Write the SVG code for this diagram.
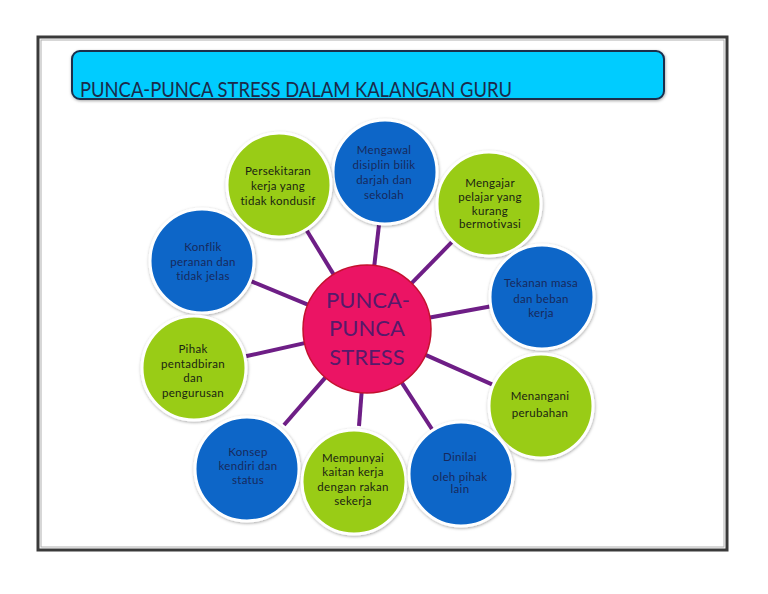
<svg xmlns="http://www.w3.org/2000/svg" width="768" height="594" viewBox="0 0 768 594">
<defs>
<filter id="sh" x="-20%" y="-20%" width="140%" height="140%">
<feDropShadow dx="0.5" dy="1" stdDeviation="1.5" flood-color="#000" flood-opacity="0.35"/>
</filter>
<style>
.blue{fill:#0A66C8;stroke:#fff;stroke-width:3;filter:url(#sh)}
.green{fill:#99CC14;stroke:#fff;stroke-width:3;filter:url(#sh)}
.tb{font-family:Lato,"Noto Sans",sans-serif;font-size:11.5px;fill:#17295C;text-anchor:middle;letter-spacing:0.3px}
.tg{font-family:Lato,"Noto Sans",sans-serif;font-size:11.5px;fill:#1A2412;text-anchor:middle;letter-spacing:0.3px}
.conn line{stroke:#6E1E86;stroke-width:4;stroke-linecap:butt}
</style>
</defs>
<rect width="768" height="594" fill="#fff"/>
<rect x="38" y="37" width="689" height="513" fill="#fff" stroke="#3a3a3a" stroke-width="3"/>
<rect x="41" y="40" width="683" height="507" fill="none" stroke="#b0b0b0" stroke-width="1"/>
<g id="title">
<rect x="72" y="51" width="592" height="48" rx="8" fill="#00CCFF" stroke="#1B2E4C" stroke-width="2" filter="url(#sh)"/>
<text x="80" y="97" font-family="Lato,'Noto Sans',sans-serif" font-size="21" fill="#1B2A4A" textLength="432" lengthAdjust="spacingAndGlyphs">PUNCA-PUNCA STRESS  DALAM KALANGAN GURU</text>
</g>
<g id="connectors" class="conn">
<line x1="374.3" y1="265.4" x2="379" y2="224.7"/>
<line x1="333.6" y1="274.4" x2="306.6" y2="230.2"/>
<line x1="411.7" y1="283.2" x2="452" y2="241.9"/>
<line x1="307.8" y1="304.6" x2="251" y2="281.2"/>
<line x1="430" y1="317.5" x2="489.9" y2="306.5"/>
<line x1="304.5" y1="343.1" x2="245.7" y2="356.3"/>
<line x1="425.5" y1="354.9" x2="492.5" y2="384.6"/>
<line x1="325.3" y1="377.6" x2="284" y2="425"/>
<line x1="361.6" y1="392.7" x2="359" y2="426"/>
<line x1="401.8" y1="382.7" x2="432.2" y2="429.5"/>
</g>
<g id="center">
<circle cx="367" cy="329" r="64" fill="#EB1464" stroke="#C4102E" stroke-width="1.5"/>
<g font-family="Lato,'Noto Sans',sans-serif" font-size="22" fill="#561A6A" text-anchor="middle">
<text x="368" y="308">PUNCA-</text>
<text x="367" y="336">PUNCA</text>
<text x="367" y="365">STRESS</text>
</g>
</g>
<g id="n-mengawal">
<circle class="blue" cx="385" cy="172" r="52"/>
<text class="tb" x="384" y="154">Mengawal</text>
<text class="tb" x="384" y="169">disiplin bilik</text>
<text class="tb" x="384" y="184">darjah dan</text>
<text class="tb" x="384" y="199">sekolah</text>
</g>
<g id="n-persekitaran">
<circle class="green" cx="279" cy="185" r="52"/>
<text class="tg" x="278" y="175">Persekitaran</text>
<text class="tg" x="278" y="190">kerja yang</text>
<text class="tg" x="278" y="205">tidak kondusif</text>
</g>
<g id="n-mengajar">
<circle class="green" cx="489" cy="204" r="52"/>
<text class="tg" x="490" y="187">Mengajar</text>
<text class="tg" x="490" y="201">pelajar yang</text>
<text class="tg" x="490" y="215">kurang</text>
<text class="tg" x="490" y="228">bermotivasi</text>
</g>
<g id="n-konflik">
<circle class="blue" cx="202" cy="261" r="52"/>
<text class="tb" x="203" y="251">Konflik</text>
<text class="tb" x="203" y="266">peranan dan</text>
<text class="tb" x="203" y="280">tidak jelas</text>
</g>
<g id="n-tekanan">
<circle class="blue" cx="542" cy="297" r="52"/>
<text class="tb" x="541" y="287">Tekanan masa</text>
<text class="tb" x="541" y="303">dan beban</text>
<text class="tb" x="541" y="317">kerja</text>
</g>
<g id="n-pihak">
<circle class="green" cx="194" cy="368" r="52"/>
<text class="tg" x="193" y="353">Pihak</text>
<text class="tg" x="193" y="368">pentadbiran</text>
<text class="tg" x="193" y="382">dan</text>
<text class="tg" x="193" y="397">pengurusan</text>
</g>
<g id="n-menangani">
<circle class="green" cx="541" cy="406" r="52"/>
<text class="tg" x="540" y="400">Menangani</text>
<text class="tg" x="540" y="417">perubahan</text>
</g>
<g id="n-konsep">
<circle class="blue" cx="247" cy="469" r="52"/>
<text class="tb" x="248" y="456">Konsep</text>
<text class="tb" x="248" y="470">kendiri dan</text>
<text class="tb" x="248" y="484">status</text>
</g>
<g id="n-mempunyai">
<circle class="green" cx="354" cy="482" r="52"/>
<text class="tg" x="353" y="462">Mempunyai</text>
<text class="tg" x="353" y="476">kaitan kerja</text>
<text class="tg" x="353" y="491">dengan rakan</text>
<text class="tg" x="353" y="505">sekerja</text>
</g>
<g id="n-dinilai">
<circle class="blue" cx="461" cy="474" r="52"/>
<text class="tb" x="460" y="461">Dinilai</text>
<text class="tb" x="460" y="481">oleh pihak</text>
<text class="tb" x="460" y="493">lain</text>
</g>
</svg>
